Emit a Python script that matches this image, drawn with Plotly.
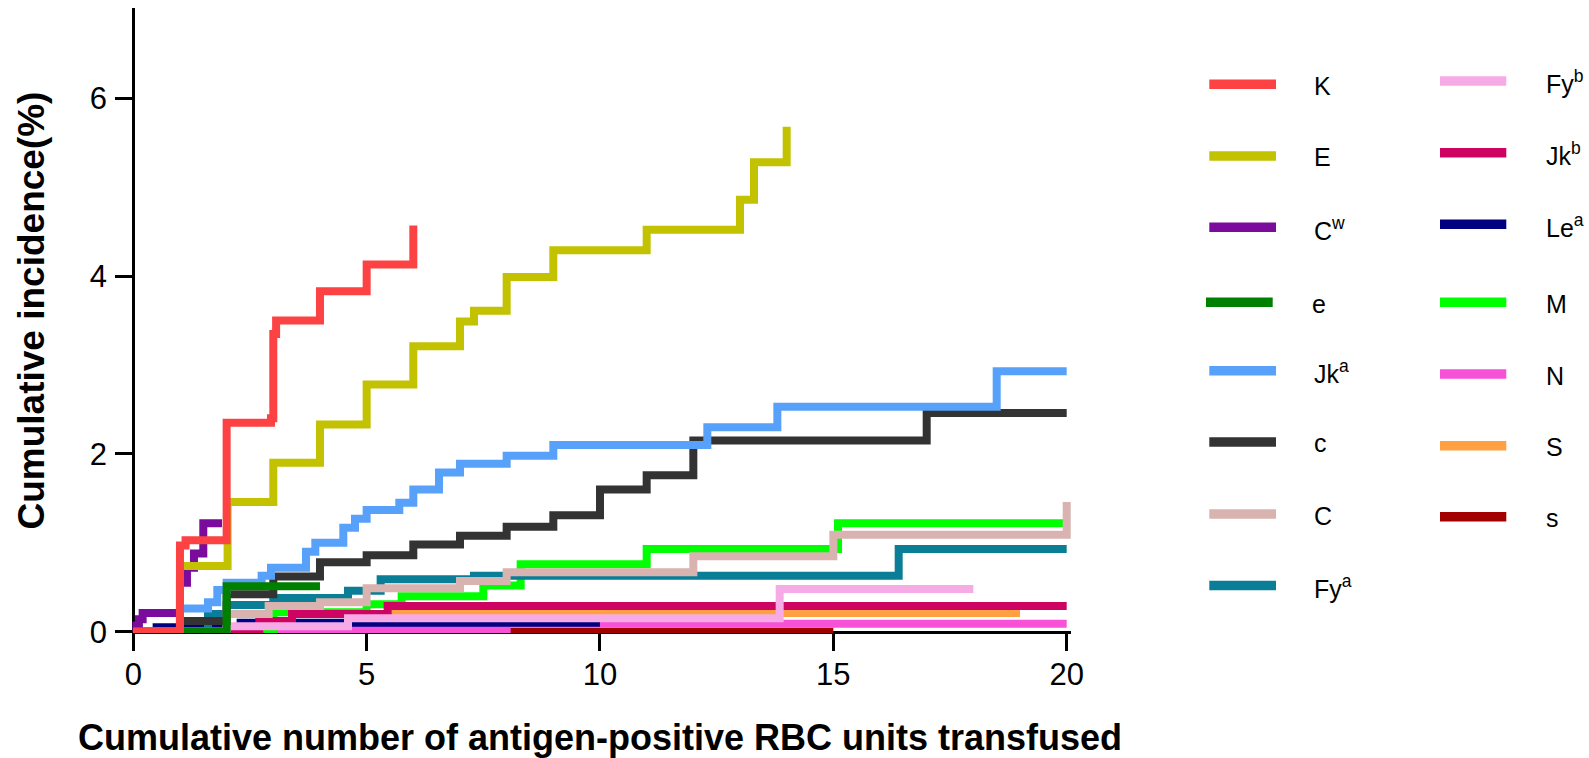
import plotly.graph_objects as go

# Figure fills the whole 1589x758 window; the page body margin is removed
# by a small post-script so nothing overflows.
WIN_W, WIN_H = 1589, 758
OFF = 0
W, H = WIN_W - OFF, WIN_H - OFF

# ---------------- data ----------------
names = ["K", "E", "C<sup>w</sup>", "e", "Jk<sup>a</sup>", "c", "C", "Fy<sup>a</sup>",
         "Fy<sup>b</sup>", "Jk<sup>b</sup>", "Le<sup>a</sup>", "M", "N", "S", "s"]
colors = ["#FC4242", "#C2C200", "#7A0B9C", "#008000", "#57A1FB", "#333333", "#D9B3B0", "#0A7E96",
          "#F7ABE6", "#CE0462", "#000080", "#00FF00", "#F651D7", "#FFA042", "#A30000"]

K_x = [0, 1.0, 1.12, 2.0, 2.95, 3.0, 3.06, 4.0, 5.0, 6.0]
K_y = [0, 0.97, 1.03, 2.35, 2.40, 3.35, 3.50, 3.83, 4.13, 4.57]

E_x = [0, 1.0, 2.02, 3.0, 4.0, 5.0, 6.0, 7.0, 7.3, 8.0, 9.0, 11.0, 13.0, 13.3, 14.0]
E_y = [0, 0.74, 1.46, 1.90, 2.33, 2.78, 3.21, 3.49, 3.61, 3.99, 4.29, 4.52, 4.86, 5.28, 5.68]

Cw_x = [0, 0.05, 0.12, 0.2, 1.0, 1.15, 1.3, 1.5, 1.9]
Cw_y = [0, 0.07, 0.14, 0.21, 0.55, 0.72, 0.88, 1.22, 1.22]

e_x = [0, 2.0, 4.0]
e_y = [0, 0.51, 0.51]

Jka_x = [0, 1.0, 1.6, 1.8, 2.0, 2.75, 2.95, 3.7, 3.9, 4.5, 4.75, 5.0, 5.7, 6.0, 6.55, 7.0, 8.0, 9.0, 12.3, 13.8, 18.5, 20.0]
Jka_y = [0, 0.26, 0.33, 0.47, 0.55, 0.63, 0.72, 0.90, 1.00, 1.17, 1.27, 1.37, 1.45, 1.60, 1.79, 1.89, 1.98, 2.10, 2.30, 2.53, 2.93, 2.93]

c_x = [0, 1.0, 2.0, 3.0, 4.0, 5.0, 6.0, 7.0, 8.0, 9.0, 10.0, 11.0, 12.0, 17.0, 20.0]
c_y = [0, 0.12, 0.42, 0.62, 0.78, 0.86, 0.98, 1.08, 1.18, 1.31, 1.60, 1.76, 2.15, 2.46, 2.46]

C_x = [0, 2.0, 2.9, 4.0, 5.0, 7.0, 8.0, 12.0, 15.0, 20.0]
C_y = [0, 0.20, 0.29, 0.33, 0.49, 0.57, 0.67, 0.85, 1.09, 1.46]

Fya_x = [0, 1.6, 2.0, 3.0, 4.6, 5.3, 7.3, 16.4, 20.0]
Fya_y = [0, 0.20, 0.30, 0.38, 0.46, 0.59, 0.63, 0.93, 0.93]

Fyb_x = [0, 2.0, 4.6, 13.85, 18.0]
Fyb_y = [0, 0.06, 0.15, 0.48, 0.48]

Jkb_x = [0, 2.7, 3.4, 5.45, 20.0]
Jkb_y = [0, 0.12, 0.20, 0.29, 0.29]

Lea_x = [0, 0.5, 2.3, 10.0]
Lea_y = [0, 0.05, 0.10, 0.10]

M_x = [0, 3.0, 5.0, 5.75, 7.5, 8.3, 11.0, 15.1, 20.0]
M_y = [0, 0.22, 0.31, 0.40, 0.52, 0.76, 0.93, 1.22, 1.22]

N_x = [0, 2.0, 8.0, 20.0]
N_y = [0, 0.03, 0.09, 0.09]

S_x = [0, 4.7, 5.6, 19.0]
S_y = [0, 0.05, 0.21, 0.21]

s_x = [0, 15.0]
s_y = [0, 0.0]

xs = [K_x, E_x, Cw_x, e_x, Jka_x, c_x, C_x, Fya_x, Fyb_x, Jkb_x, Lea_x, M_x, N_x, S_x, s_x]
ys = [K_y, E_y, Cw_y, e_y, Jka_y, c_y, C_y, Fya_y, Fyb_y, Jkb_y, Lea_y, M_y, N_y, S_y, s_y]

x_ticks = [0, 5, 10, 15, 20]
y_ticks = [0, 2, 4, 6]

x_title = "Cumulative number of antigen-positive RBC units transfused"
y_title = "Cumulative incidence(%)"

FONT = "Arial, Liberation Sans, Helvetica, sans-serif"


def px_x(v):  # window pixel -> paper x (clamped, for domains)
    return min(1.0, max(0.0, (v - OFF) / W))


def px_y(v):  # window pixel -> paper y (clamped, for domains)
    return min(1.0, max(0.0, 1 - (v - OFF) / H))


def px_x_free(v):
    return (v - OFF) / W


def px_y_free(v):
    return 1 - (v - OFF) / H


# ---------------- figure ----------------
fig = go.Figure()
# first legend item is drawn on top -> add in reverse order
for i in reversed(range(len(names))):
    fig.add_trace(go.Scatter(
        x=xs[i], y=ys[i], mode="lines", name=names[i],
        line=dict(shape="hv", color=colors[i], width=8),
        showlegend=False, hoverinfo="skip"))

# geometry (window pixels)
x0_px, px_per_x = 133.3, 46.67
y0_px, px_per_y = 631.7, 88.9
xr = [-0.02, 20.1]
yr = [-0.015, 7.02]
xl = x0_px + xr[0] * px_per_x
xrgt = x0_px + xr[1] * px_per_x
yb = y0_px - yr[0] * px_per_y
yt = y0_px - yr[1] * px_per_y

axis_common = dict(showline=True, linecolor="black", linewidth=3, ticks="outside",
                   ticklen=17, tickwidth=3, tickcolor="black", showgrid=False,
                   zeroline=False, layer="below traces", automargin=False,
                   tickfont=dict(family=FONT, size=31, color="black"))

fig.update_layout(
    width=W, height=H, margin=dict(l=0, r=0, t=0, b=0, autoexpand=False),
    paper_bgcolor="white", plot_bgcolor="white", showlegend=False,
    xaxis=dict(domain=[px_x(xl), px_x(xrgt)], range=xr, anchor="free",
               position=px_y(y0_px), tickvals=x_ticks,
               ticktext=[str(v) for v in x_ticks], ticklabelstandoff=-3, **axis_common),
    yaxis=dict(domain=[px_y(yb), px_y(yt)], range=yr, anchor="free",
               position=px_x(x0_px), tickvals=y_ticks,
               ticktext=[str(v) for v in y_ticks], ticklabelstandoff=2, **axis_common),
)

annotations = [
    dict(text="<b>" + x_title + "</b>", x=px_x_free(600), y=px_y_free(737), xref="paper", yref="paper",
         showarrow=False, xanchor="center", yanchor="middle",
         font=dict(family=FONT, size=36, color="black")),
    dict(text="<b>" + y_title + "</b>", x=px_x_free(30.5), y=px_y_free(311), xref="paper", yref="paper",
         showarrow=False, xanchor="center", yanchor="middle", textangle=-90,
         font=dict(family=FONT, size=37, color="black")),
]

# ---------------- manual two-column legend ----------------
leg_rows_y = [84.3, 156, 227.3, 302.3, 370.7, 442, 514, 585.6,
              81, 152.7, 224.3, 302.3, 374, 445.7, 516.7]
shapes = []
for i, nm in enumerate(names):
    ypx = leg_rows_y[i]
    if i < 8:
        lx0, lx1, tx = 1209.3, 1276, 1312
        if i == 3:
            lx0, lx1, tx = 1206, 1272.7, 1310
    else:
        lx0, lx1, tx = 1440, 1506.3, 1544
    shapes.append(dict(type="line", xref="paper", yref="paper",
                       x0=px_x_free(lx0), x1=px_x_free(lx1), y0=px_y_free(ypx), y1=px_y_free(ypx),
                       line=dict(color=colors[i], width=9.5)))
    annotations.append(dict(text=nm, x=px_x_free(tx), y=px_y_free(ypx + 1.5), xref="paper", yref="paper",
                            showarrow=False, xanchor="left", yanchor="middle",
                            font=dict(family=FONT, size=25, color="black")))

fig.update_layout(annotations=annotations, shapes=shapes)

fig.write_html(
    "out.html",
    config={"displayModeBar": False, "staticPlot": True},
    post_script="document.body.style.margin='0px';document.body.style.overflow='hidden';",
)
